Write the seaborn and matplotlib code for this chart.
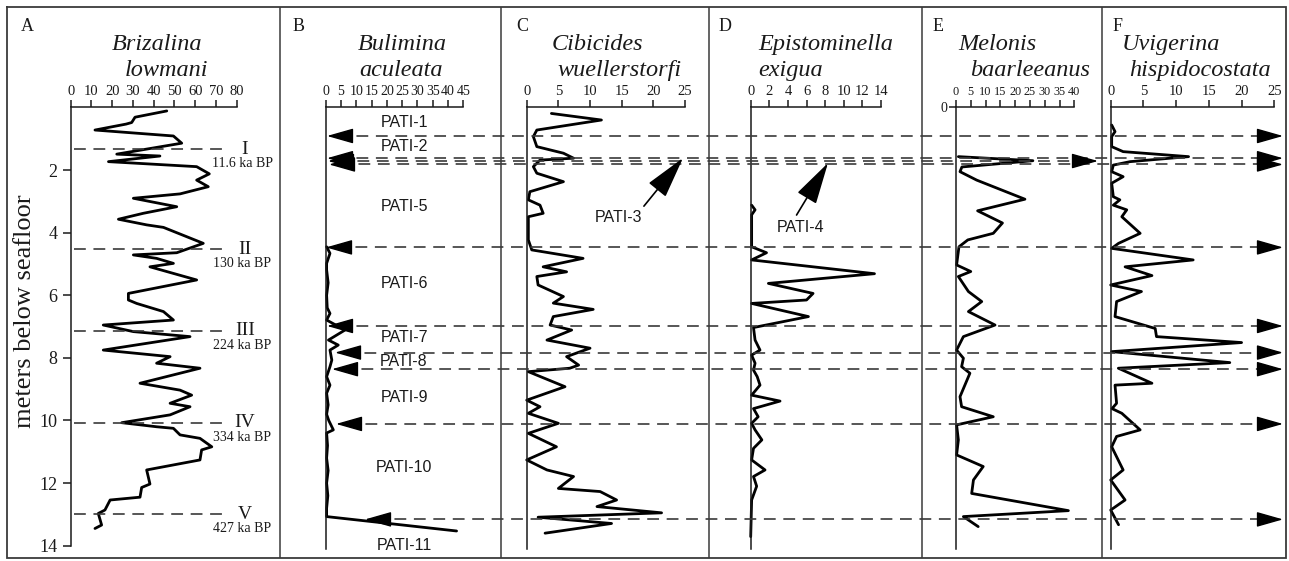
import numpy as np
import matplotlib
matplotlib.use('Agg')
import matplotlib.pyplot as plt
import seaborn as sns

W, H = 1289, 561
TOP, PX_PER_M = 107.5, 31.3   # pixel row of 0 m, pixels per metre
DEPTH_MAX = 14.1


def dep(py):
    """pixel row -> depth (m) in the shared vertical scale"""
    return (py - TOP) / PX_PER_M


# ── Data: depth (m below seafloor) and abundance (%) per species ──
a_depth = [0.11, 0.31, 0.48, 0.53, 0.72, 0.91, 1.14, 1.49, 1.55, 1.73, 1.89, 2.12, 2.32, 2.53,
           2.76, 2.90, 3.17, 3.38, 3.57, 3.75, 3.83, 4.34, 4.64, 4.71, 4.82, 4.98, 5.09, 5.51,
           5.94, 6.15, 6.26, 6.52, 6.79, 6.95, 7.16, 7.32, 7.75, 7.96, 8.17, 8.33, 8.81, 9.03,
           9.19, 9.45, 9.56, 9.82, 10.07, 10.20, 10.25, 10.46, 10.57, 10.84, 10.94, 11.26,
           11.58, 12.03, 12.14, 12.45, 12.54, 12.86, 12.97, 13.34, 13.45]
a_vals = [46.3, 31.0, 29.4, 26.7, 11.7, 49.5, 53.5, 22.2, 43.0, 18.2, 60.7, 66.8, 60.7, 66.3,
          52.7, 30.2, 51.1, 35.0, 23.0, 36.6, 44.7, 63.9, 51.1, 30.2, 41.4, 49.5, 38.2, 60.7,
          27.8, 27.8, 31.8, 44.7, 49.5, 15.7, 30.2, 57.5, 15.7, 47.9, 41.4, 62.3, 33.4, 52.7,
          58.3, 47.9, 57.5, 47.9, 24.6, 41.4, 49.5, 52.7, 62.3, 68.0, 63.1, 62.3,
          36.6, 38.2, 34.2, 33.4, 19.0, 16.5, 13.3, 14.9, 11.7]

b_depth = [4.45, 4.66, 4.98, 5.19, 5.6, 6.0, 6.4, 6.58, 6.79, 7.11, 7.43, 7.59, 7.75, 8.07,
           8.28, 8.6, 8.87, 9.13, 9.5, 9.8, 10.0, 10.3, 10.4, 10.8, 11.2, 11.6, 12.0, 12.4,
           12.8, 13.07, 13.53]
b_vals = [0.3, 1.4, 0.3, 0.3, 0.8, 0.3, 0.5, 1.4, 0.3, 6.3, 0.9, 4.1, 1.4, 2.0,
          1.4, 0.3, 1.4, 0.3, 0.8, 0.3, 1.0, 2.5, 0.3, 0.6, 0.3, 0.8, 0.3, 0.7,
          0.3, 0.3, 42.8]

c_depth = [0.19, 0.40, 0.72, 0.93, 1.25, 1.46, 1.62, 1.68, 1.89, 2.10, 2.37, 2.69, 2.95, 3.12,
           3.38, 3.49, 4.23, 4.55, 4.82, 5.09, 5.25, 5.40, 5.67, 6.04, 6.25, 6.45, 6.68, 6.95,
           7.11, 7.43, 7.69, 7.96, 8.23, 8.33, 8.44, 8.92, 9.35, 9.56, 9.77, 10.09, 10.41,
           10.84, 11.26, 11.58, 11.79, 12.17, 12.27, 12.54, 12.75, 12.95, 13.09, 13.29, 13.60]
c_vals = [3.9, 11.8, 1.6, 1.05, 1.6, 5.8, 7.4, 2.1, 1.05, 1.6, 5.8, 0.5, 0.26, 2.1,
          2.6, 0.26, 0.26, 0.8, 8.9, 2.6, 6.3, 1.6, 1.8, 5.8, 4.2, 10.5, 4.2, 3.7,
          7.1, 3.2, 10.0, 6.3, 8.2, 6.8, 0.26, 6.05, 0.0, 2.1, 0.26, 5.0, 0.26,
          4.7, 0.0, 3.2, 7.4, 5.0, 11.6, 14.2, 11.1, 21.3, 1.8, 13.4, 2.9]

d_depth = [3.12, 3.27, 3.43, 4.45, 4.64, 4.87, 5.31, 5.62, 5.94, 6.15, 6.26, 6.68, 7.03, 7.43,
           7.75, 7.91, 8.17, 8.39, 8.6, 8.87, 9.19, 9.38, 9.62, 9.88, 10.09, 10.3, 10.62,
           10.89, 11.26, 11.58, 11.79, 12.1, 12.54, 13.71]
d_vals = [0.1, 0.47, 0.1, 0.1, 1.7, 0.1, 13.3, 1.9, 6.7, 6.0, 0.1, 6.2, 0.3, 0.47,
          1.0, 0.1, 0.47, 0.3, 0.7, 1.0, 0.1, 3.15, 0.3, 0.8, 0.1, 0.47, 1.2,
          0.3, 0.1, 1.54, 0.3, 0.64, 0.1, 0.0]

e_depth = [1.57, 1.70, 1.90, 2.05, 2.32, 2.93, 3.30, 3.69, 4.02, 4.23, 4.45, 5.03, 5.24, 5.40,
           5.88, 6.20, 6.52, 6.95, 7.32, 7.75, 8.01, 8.28, 8.49, 8.87, 9.24, 9.56, 9.88,
           10.14, 10.62, 11.10, 11.47, 11.90, 12.33, 12.88, 13.07, 13.39]
e_vals = [0.8, 26.0, 2.0, 1.35, 7.0, 23.3, 7.3, 15.7, 12.6, 4.0, 1.0, 0.2, 5.0, 0.8,
          4.2, 8.7, 4.2, 13.2, 2.5, 0.2, 2.5, 1.9, 4.7, 3.0, 1.35, 1.9, 12.6,
          0.2, 0.8, 0.2, 9.2, 5.9, 5.3, 38.0, 2.5, 7.5]

f_depth = [0.56, 0.77, 0.93, 1.25, 1.41, 1.57, 1.73, 1.84, 2.05, 2.21, 2.42, 2.85, 2.95, 3.12,
           3.27, 3.49, 4.02, 4.34, 4.50, 4.87, 5.09, 5.37, 5.67, 5.88, 6.20, 6.68, 7.06, 7.32,
           7.51, 7.80, 8.15, 8.33, 8.81, 8.87, 9.45, 9.62, 9.77, 10.30, 10.51, 10.84, 11.58,
           11.90, 12.54, 12.86, 13.33]
f_vals = [0.15, 0.66, 0.15, 0.15, 1.9, 11.9, 2.96, 0.4, 0.15, 1.9, 0.15, 0.4, 1.4, 0.4,
          2.45, 1.7, 4.5, 1.2, 0.15, 12.6, 2.2, 6.3, 0.0, 4.7, 0.9, 0.66, 6.8, 7.0,
          20.0, 0.15, 18.2, 1.17, 6.3, 0.66, 0.9, 0.2, 1.7, 4.5, 0.9, 0.15, 1.9,
          0.0, 2.2, 0.0, 1.2]

letters = ['A', 'B', 'C', 'D', 'E', 'F']
species = [('Brizalina', 'lowmani'), ('Bulimina', 'aculeata'), ('Cibicides', 'wuellerstorfi'),
           ('Epistominella', 'exigua'), ('Melonis', 'baarleeanus'),
           ('Uvigerina', 'hispidocostata')]
series = [(a_depth, a_vals), (b_depth, b_vals), (c_depth, c_vals),
          (d_depth, d_vals), (e_depth, e_vals), (f_depth, f_vals)]
x_max = [80, 45, 25, 14, 40, 25]
x_step = [10, 5, 5, 2, 5, 5]
depth_ticks = [2, 4, 6, 8, 10, 12, 14]

# age boundaries drawn in panel A
era_depth = [1.33, 4.53, 7.14, 10.07, 12.99]
era_names = ['I', 'II', 'III', 'IV', 'V']
era_ages = ['11.6 ka BP', '130 ka BP', '224 ka BP', '334 ka BP', '427 ka BP']

# PATI zone boundaries (B -> F) and zone names
bound_depth = [0.91, 1.62, 1.71, 1.82, 4.47, 6.98, 7.83, 8.36, 10.11, 13.16]
zone_names = ['PATI-1', 'PATI-2', 'PATI-5', 'PATI-6', 'PATI-7', 'PATI-8',
              'PATI-9', 'PATI-10', 'PATI-11']
zone_depth = [0.47, 1.26, 3.15, 5.61, 7.36, 8.13, 9.25, 11.49, 14.0]

# ── Layout (pixels) ──
panel_x0 = [70.7, 325.7, 526.7, 750.7, 956.0, 1110.7]
panel_x1 = [236.7, 463.3, 685.0, 881.0, 1074.3, 1274.3]
tick_size = [10.5, 10, 10.5, 10.5, 8.8, 10.5]
letter_x = [21, 293, 516, 719, 933, 1113]
title1_x = [157, 402, 597, 826, 997, 1171]
title2_x = [166, 401, 619, 791, 1030, 1200]
dividers = [280, 500.7, 709, 922, 1101.5]
tip_left = [327, 327, 328, 329, 326, 327, 335, 332, 336, 365]
tip_right = [1283, 1283, 1098, 1283, 1283, 1283, 1283, 1283, 1283, 1283]

sns.set_style('white')
plt.rcParams['font.family'] = ['Liberation Serif', 'DejaVu Serif']
plt.rcParams['lines.scale_dashes'] = False
INK = '#1a1a1a'
GRAY = '#3a3a3a'
SANS = ['Liberation Sans', 'DejaVu Sans']

fig = plt.figure(figsize=(W / 100, H / 100), dpi=100)
fig.patch.set_facecolor('white')

ax_h = PX_PER_M * DEPTH_MAX
for i in range(6):
    x0, x1 = panel_x0[i], panel_x1[i]
    ax = fig.add_axes([x0 / W, 1 - (TOP + ax_h) / H, (x1 - x0) / W, ax_h / H])
    ax.patch.set_alpha(0)
    dd, vv = series[i]
    sns.lineplot(x=vv, y=dd, ax=ax, sort=False, estimator=None, orient='y',
                 color='black', lw=2.0)
    for ln in ax.lines:
        ln.set_clip_on(False)
    ax.set_xlim(0, x_max[i])
    ax.set_ylim(DEPTH_MAX, 0)
    ax.set_xlabel('')
    ax.set_ylabel('')
    for s in ('right', 'bottom'):
        ax.spines[s].set_visible(False)
    for s in ('top', 'left'):
        ax.spines[s].set_color(INK)
        ax.spines[s].set_linewidth(1.1)
    ax.spines['top'].set_bounds(0, x_max[i])
    ax.spines['left'].set_bounds(0, 14 if i == 0 else DEPTH_MAX)

    ax.set_xticks(np.arange(0, x_max[i] + 1, x_step[i]))
    ax.tick_params(axis='x', top=True, labeltop=True, bottom=False, labelbottom=False,
                   direction='out', length=5, width=1.1, pad=1.5,
                   labelsize=tick_size[i], colors=INK)
    if i == 0:
        ax.set_yticks(depth_ticks)
        ax.tick_params(axis='y', left=True, labelleft=True, direction='out',
                       length=6, width=1.1, pad=3.5, labelsize=13, colors=INK)
    elif i == 4:
        ax.set_yticks([0])
        ax.tick_params(axis='y', left=True, labelleft=True, direction='out',
                       length=5, width=1.1, pad=1, labelsize=10, colors=INK)
    else:
        ax.set_yticks([])

# ── Overlay: x in pixels, y in metres ──
ov = fig.add_axes([0, 0, 1, 1], zorder=10)
ov.set_xlim(0, W)
ov.set_ylim(dep(H), dep(0))
ov.axis('off')

# frame and panel dividers
ov.plot([7, 1286, 1286, 7, 7], [dep(7), dep(7), dep(558), dep(558), dep(7)],
        color=GRAY, lw=1.3, solid_joinstyle='miter')
ov.vlines(dividers, dep(7), dep(558), color=GRAY, lw=1.1)

# panel letters and species names
for i in range(6):
    ov.text(letter_x[i], dep(31), letters[i], fontsize=13, ha='left', va='baseline', color=INK)
    ov.text(title1_x[i], dep(50), species[i][0], fontsize=17.5, style='italic',
            ha='center', va='baseline', color=INK)
    ov.text(title2_x[i], dep(76), species[i][1], fontsize=17.5, style='italic',
            ha='center', va='baseline', color=INK)

fig.text(25 / W, 1 - 311 / H, 'meters below seafloor', rotation=90, fontsize=19,
         ha='center', va='center', color=INK)

# age boundaries in panel A
dash = (0, (8.5, 5.5))
for d, nm, age in zip(era_depth, era_names, era_ages):
    ov.plot([74, 229], [d, d], color=GRAY, lw=1.2, ls=dash)
    ov.text(245, d, nm, fontsize=14, ha='center', va='center', color=INK)
    ov.text(242, d + 0.46, age, fontsize=10, ha='center', va='center', color=INK)

# PATI boundaries across panels B-F
head = dict(arrowstyle='-|>,head_length=1.65,head_width=0.47', color='black',
            lw=1, shrinkA=0, shrinkB=0, mutation_scale=10)
for d, xl, xr in zip(bound_depth, tip_left, tip_right):
    ov.plot([xl + 10, xr - 10], [d, d], color=GRAY, lw=1.2, ls=dash)
    ov.annotate('', xy=(xl, d), xytext=(xl + 24, d), arrowprops=head)
    ov.annotate('', xy=(xr, d), xytext=(xr - 24, d), arrowprops=head)

for nm, d in zip(zone_names, zone_depth):
    ov.text(404, d, nm, fontsize=11.5, family=SANS, ha='center', va='center', color=INK)

pointer = dict(arrowstyle='-|>,head_length=2.3,head_width=0.6', color='black', lw=1.2,
               shrinkA=1, shrinkB=0, mutation_scale=11.5)
ov.annotate('PATI-3', xy=(683, dep(158)), xytext=(619, dep(218)), fontsize=11.5,
            family=SANS, ha='center', va='center', color=INK,
            arrowprops=dict(pointer, relpos=(0.95, 1.0)))
ov.annotate('PATI-4', xy=(828, dep(163)), xytext=(801, dep(227)), fontsize=11.5,
            family=SANS, ha='center', va='center', color=INK,
            arrowprops=dict(pointer, relpos=(0.35, 1.0)))

fig.savefig('out.png', dpi=100, facecolor='white')
